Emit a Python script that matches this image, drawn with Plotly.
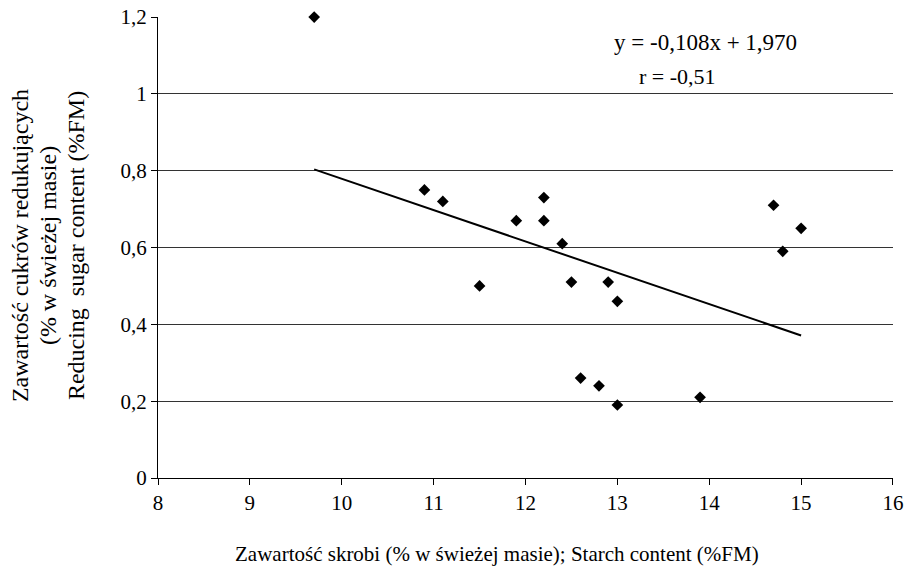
import numpy as np
import plotly.graph_objects as go

starch = [9.7, 10.9, 11.1, 11.5, 11.9, 12.2, 12.2, 12.4, 12.5, 12.6, 12.8, 12.9, 13.0, 13.0, 13.9, 14.7, 14.8, 15.0]
sugar = [1.20, 0.75, 0.72, 0.50, 0.67, 0.73, 0.67, 0.61, 0.51, 0.26, 0.24, 0.51, 0.46, 0.19, 0.21, 0.71, 0.59, 0.65]

eq_text = "y = -0,108x + 1,970"
r_text = "r = -0,51"
x_title = "Zawartość skrobi (% w świeżej masie); Starch content (%FM)"
y_title_lines = ["Zawartość cukrów redukujących", "(% w świeżej masie)", "Reducing  sugar content (%FM)"]

slope, intercept = np.polyfit(starch, sugar, 1)
xl = np.array([min(starch), max(starch)])
yl = slope * xl + intercept

FONT = "'Times New Roman', 'Liberation Serif', Tinos, 'DejaVu Serif', serif"

fig = go.Figure()
fig.add_trace(go.Scatter(x=xl, y=yl, mode="lines", line=dict(color="black", width=2), showlegend=False))
fig.add_trace(go.Scatter(x=starch, y=sugar, mode="markers", cliponaxis=False,
                         marker=dict(symbol="diamond", size=9, color="black"), showlegend=False))

annotations = [
    dict(text=x_title, xref="paper", yref="paper", x=0.4615, y=-0.165, xanchor="center", yanchor="middle",
         showarrow=False, font=dict(family=FONT, size=21)),
    dict(text=eq_text, xref="paper", yref="paper", x=0.618, y=0.944, xanchor="left", yanchor="middle",
         showarrow=False, font=dict(family=FONT, size=23)),
    dict(text=r_text, xref="paper", yref="paper", x=0.652, y=0.872, xanchor="left", yanchor="middle",
         showarrow=False, font=dict(family=FONT, size=22)),
]
for i, line in enumerate(y_title_lines):
    px = [20, 48, 76][i]
    annotations.append(dict(text=line, xref="paper", yref="paper", x=(px - 158) / 735, y=0.503,
                            xanchor="center", yanchor="middle", textangle=-90, showarrow=False,
                            font=dict(family=FONT, size=24)))

fig.update_layout(
    width=907, height=566,
    margin=dict(l=158, r=14, t=17, b=88),
    paper_bgcolor="white", plot_bgcolor="white",
    separators=", ",
    font=dict(family=FONT, size=20, color="black"),
    xaxis=dict(range=[8, 16.0001], dtick=1, tick0=8, showgrid=False, zeroline=False, automargin=False,
               showline=True, linecolor="black", linewidth=1,
               ticks="outside", ticklen=6, tickcolor="black",
               tickfont=dict(family=FONT, size=21)),
    yaxis=dict(range=[0, 1.2001], dtick=0.2, tick0=0, showgrid=True, gridcolor="#333333", gridwidth=1,
               zeroline=False, showline=True, linecolor="black", linewidth=1, automargin=False,
               ticks="outside", ticklen=6, tickcolor="black",
               tickfont=dict(family=FONT, size=21)),
    annotations=annotations,
)

fig.write_html("out.html", config={"displayModeBar": False},
               post_script="document.body.style.margin='0';document.body.style.overflow='hidden';")
